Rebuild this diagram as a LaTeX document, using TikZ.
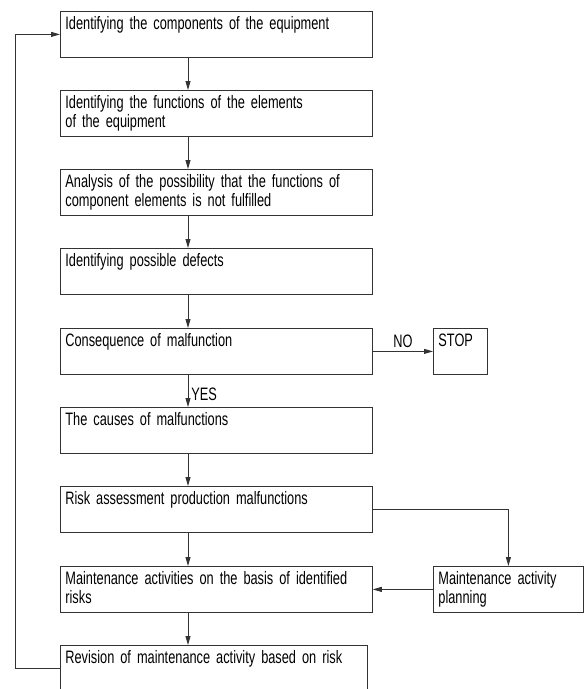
\documentclass[tikz,border=0pt]{standalone}
\usepackage{fontspec}
\setmainfont{Liberation Sans}[FakeStretch=0.71,WordSpace=2.2]
\usepackage{tikz}
\usetikzlibrary{arrows.meta,positioning,calc}
\tikzset{%
  stage/.style={draw=black!80,line width=0.8pt,anchor=north west,align=left,
    text width=302pt,inner xsep=5pt,inner ysep=3pt,
    text height=15pt,text depth=25pt},
  flow/.style={-{Triangle[length=9pt,width=5pt]},draw=black!80,line width=0.8pt}%
}

\begin{document}
\begin{tikzpicture}[
    x=1pt, y=-1pt,
    font=\fontsize{18}{19}\selectfont,
    side/.style={
        stage,
        text width=140pt
    },
    tag/.style={inner sep=1pt}
]

% canvas (last box runs off the bottom edge)
\clip (0,0) rectangle (584,689);

% main column of stages
\node[stage] (ident) at (60,11) {Identifying the components of the equipment};
\node[stage] (funct) at (60,90) {Identifying the functions of the elements\\of the equipment};
\node[stage] (anal) at (60,169) {Analysis of the possibility that the functions of\\component elements is not fulfilled};
\node[stage] (defect) at (60,248) {Identifying possible defects};
\node[stage] (conseq) at (60,328) {Consequence of malfunction};
\node[stage] (cause) at (60,407) {The causes of malfunctions};
\node[stage] (risk) at (60,486) {Risk assessment production malfunctions};
\node[stage] (maint) at (60,566) {Maintenance activities on the basis of identified\\risks};
\node[stage, text width=297pt] (revis) at (60,645) {Revision of maintenance activity based on risk};

% side boxes
\node[side, text width=44pt] (stop) at (433,328) {STOP};
\node[side] (plan) at (433,566) {Maintenance activity\\planning};

% line of the vertical arrows
\coordinate (axis) at (188,0);

% arrows down the column
\draw[flow] (ident.south -| axis) -- (funct.north -| axis);
\draw[flow] (funct.south -| axis) -- (anal.north -| axis);
\draw[flow] (anal.south -| axis) -- (defect.north -| axis);
\draw[flow] (defect.south -| axis) -- (conseq.north -| axis);
\draw[flow] (conseq.south -| axis) -- (cause.north -| axis)
    node[tag, midway, anchor=west, xshift=2pt, yshift=-3pt] {YES};
\draw[flow] (cause.south -| axis) -- (risk.north -| axis);
\draw[flow] (risk.south -| axis) -- (maint.north -| axis);
\draw[flow] (maint.south -| axis) -- (revis.north -| axis);

% branches
\draw[flow] (conseq.east) -- (stop.west) node[tag, midway, above=2pt] {NO};
\draw[flow] (risk.east) -| (plan.north);
\draw[flow] (plan.west) -- (maint.east);

% feedback loop
\draw[flow] (revis.west) -- ++(-45,0) |- (ident.west);

\end{tikzpicture}
\end{document}
